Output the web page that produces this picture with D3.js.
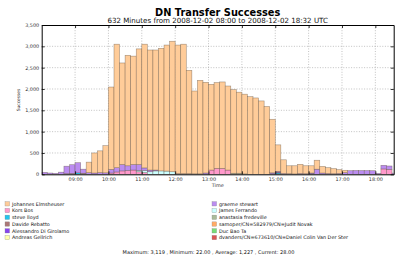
<!DOCTYPE html>
<html><head><meta charset="utf-8">
<script src="https://cdn.jsdelivr.net/npm/d3@7"></script>
<style>
html,body{margin:0;padding:0;background:#fff;}
svg{display:block;font-family:"DejaVu Sans",sans-serif;}
</style></head>
<body><svg id="c" width="414" height="259"></svg>
<script>
// ---------------- DATA ----------------
const times = ["08:00","08:10","08:20","08:30","08:40","08:50",
"09:00","09:10","09:20","09:30","09:40","09:50",
"10:00","10:10","10:20","10:30","10:40","10:50",
"11:00","11:10","11:20","11:30","11:40","11:50",
"12:00","12:10","12:20","12:30","12:40","12:50",
"13:00","13:10","13:20","13:30","13:40","13:50",
"14:00","14:10","14:20","14:30","14:40","14:50",
"15:00","15:10","15:20","15:30","15:40","15:50",
"16:00","16:10","16:20","16:30","16:40","16:50",
"17:00","17:10","17:20","17:30","17:40","17:50",
"18:00","18:10","18:20","18:30"];

const johannes   = [0,0,0,0,0,0, 0,0,245,470,510,636, 1931,2895,2380,2590,2540,2710, 2900,2814,2814,2873,2955,3059, 3015,3035,2423,1941,2191,2126, 2009,2010,2025,1970,1960,1900, 1868,1820,1790,1720,1590,1255, 620,320,185,190,214,185, 170,210,155,136,118,89, 54,0,0,0,0,0, 0,0,0,0];
const kors       = [0,0,0,0,0,0, 0,0,0,0,0,0, 30,55,80,90,100,60, 40,0,0,0,0,0, 0,0,0,0,0,0, 100,140,140,100,0,0, 0,0,0,0,0,0, 0,0,0,0,0,0, 0,0,0,0,0,0, 0,0,0,0,0,0, 0,126,115,0];
const steve      = [0,0,0,0,0,0, 35,0,0,0,0,0, 0,0,0,0,0,0, 0,0,0,0,0,0, 0,0,0,0,0,0, 0,0,0,0,0,0, 0,0,0,0,0,0, 30,0,0,0,0,0, 0,0,0,0,0,0, 0,0,0,0,0,0, 0,0,0,0];
const davide     = [0,0,0,0,15,20, 0,25,0,0,0,0, 0,0,0,0,0,0, 0,0,0,0,0,0, 15,15,15,12,12,0, 0,0,0,0,0,0, 0,0,0,0,0,0, 0,0,0,0,0,0, 0,0,0,0,0,0, 0,0,0,0,0,0, 0,0,0,0];
const alessandro = [0,0,0,0,0,0, 0,0,0,0,0,0, 0,0,0,0,0,0, 0,0,0,0,0,0, 0,0,0,0,0,0, 0,0,0,0,0,0, 0,0,0,0,0,15, 15,0,0,0,0,0, 10,0,0,0,0,0, 0,0,0,0,0,0, 0,0,0,0];
const andreas    = [0,0,0,0,0,0, 0,0,0,0,0,0, 0,0,0,0,0,0, 0,0,0,0,0,0, 0,0,0,0,0,0, 0,0,0,0,0,0, 0,0,0,0,0,0, 0,0,0,0,0,0, 0,0,0,0,0,0, 0,0,0,0,0,0, 0,0,0,0];
const graeme     = [45,30,22,50,175,205, 237,95,40,30,40,35, 85,100,150,110,130,140, 60,40,20,0,0,0, 0,0,0,0,0,30, 0,0,0,0,0,0, 0,0,0,0,0,20, 25,20,15,10,20,15, 20,120,30,20,15,20, 40,85,90,88,88,85, 22,85,80,28];
const james      = [0,0,0,0,0,0, 0,0,0,0,0,0, 0,0,0,0,0,30, 50,60,80,80,75,60, 0,0,0,0,0,0, 0,0,0,0,0,0, 0,0,0,0,0,0, 0,0,0,0,0,0, 0,0,0,0,0,0, 0,0,0,0,0,0, 0,0,0,0];
const anastasia  = [0,0,0,0,0,0, 0,0,0,0,0,0, 0,0,0,0,0,0, 0,0,0,0,0,0, 0,0,0,0,0,0, 0,0,0,0,25,25, 0,0,0,0,0,0, 0,0,0,0,0,0, 0,0,0,0,0,0, 0,0,0,0,0,0, 0,0,0,0];
const judit      = [0,0,0,0,0,0, 0,0,0,0,0,0, 0,0,0,0,0,0, 0,0,0,0,0,0, 0,0,0,0,0,0, 0,0,0,0,0,0, 0,0,0,0,0,0, 0,0,0,0,0,0, 0,0,0,0,0,0, 0,0,0,0,0,0, 0,0,0,0];
const duc        = [0,0,0,0,0,0, 0,0,0,0,0,0, 0,0,0,0,0,0, 0,0,0,0,0,0, 0,0,0,0,0,0, 0,0,0,0,0,0, 10,0,0,0,0,0, 0,0,0,0,0,0, 0,0,0,0,0,0, 0,0,0,0,0,0, 0,0,0,0];
const dvanders   = [0,0,0,0,0,0, 0,0,0,0,0,0, 0,0,0,0,0,0, 0,0,0,0,0,0, 0,0,0,0,0,0, 0,0,0,0,0,0, 0,0,0,0,0,0, 0,0,0,0,0,0, 0,0,0,0,0,0, 0,0,0,0,0,0, 0,0,0,0];

const seriesNames = ["Johannes Elmsheuser","Kors Bos","steve lloyd","Davide Rebatto","Alessandro Di Girolamo","Andreas Gellrich",
  "graeme stewart","James Ferrando","anastasia fredeville","samoper/CN=582979/CN=Judit Novak","Duc Bao Ta","dvanders/CN=673610/CN=Daniel Colin Van Der Ster"];
const seriesValues = [johannes,kors,steve,davide,alessandro,andreas,graeme,james,anastasia,judit,duc,dvanders];
const seriesColors = ["#ffcc99","#ff99cc","#22c4ee","#aa7777","#8844ee","#ffffaa",
  "#bb8cf0","#ccffff","#aabb99","#ffaa66","#77dd77","#dd5555"];
// stacking order bottom -> top
const stackOrder = ["Kors Bos","steve lloyd","Davide Rebatto","Alessandro Di Girolamo","Andreas Gellrich","James Ferrando",
  "anastasia fredeville","samoper/CN=582979/CN=Judit Novak","Duc Bao Ta","dvanders/CN=673610/CN=Daniel Colin Van Der Ster",
  "graeme stewart","Johannes Elmsheuser"];

const xTickLabels = ["09:00","10:00","11:00","12:00","13:00","14:00","15:00","16:00","17:00","18:00"];
const yTickValues = [0,500,1000,1500,2000,2500,3000,3500];
const title = "DN Transfer Successes";
const subtitle = "632 Minutes from 2008-12-02 08:00 to 2008-12-02 18:32 UTC";
const statsText = "Maximum: 3,119 , Minimum: 22.00 , Average: 1,227 , Current: 28.00";

// ---------------- CHART ----------------
const svg = d3.select("#c");
const P = {l:41.7, r:393.7, t:25, b:174.3};
const parse = s => new Date(Date.UTC(2008,11,2,+s.slice(0,2),+s.slice(3)));
const x = d3.scaleUtc().domain([parse("08:00"), parse("18:33")]).range([P.l,P.r]);
const y = d3.scaleLinear().domain([0,3500]).range([P.b,P.t]);

svg.append("rect").attr("width",414).attr("height",259).attr("fill","#fff");

// grid
const grid = svg.append("g").attr("stroke","#999").attr("stroke-width",0.6).attr("stroke-dasharray","1,1.6");
grid.selectAll("line.h").data(yTickValues.slice(1,-1)).join("line")
  .attr("x1",P.l).attr("x2",P.r).attr("y1",d=>y(d)).attr("y2",d=>y(d));
grid.selectAll("line.v").data(xTickLabels).join("line")
  .attr("y1",P.t).attr("y2",P.b).attr("x1",d=>x(parse(d))).attr("x2",d=>x(parse(d)));

// data rows
const rows = times.map((t,i)=>{const o={t:parse(t)}; seriesNames.forEach((n,k)=>o[n]=seriesValues[k][i]); return o;});
const stack = d3.stack().keys(stackOrder)(rows);
const color = d3.scaleOrdinal().domain(seriesNames).range(seriesColors);

svg.append("clipPath").attr("id","clip").append("rect")
  .attr("x",P.l).attr("y",P.t).attr("width",P.r-P.l).attr("height",P.b-P.t);
const bars = svg.append("g").attr("clip-path","url(#clip)");
stack.forEach(layer=>{
  bars.append("g").attr("fill",color(layer.key))
    .selectAll("rect").data(layer.filter(d=>d[1]-d[0]>0)).join("rect")
    .attr("x",d=>x(d.data.t))
    .attr("width",d=>x(d3.utcMinute.offset(d.data.t,10))-x(d.data.t))
    .attr("y",d=>y(d[1]))
    .attr("height",d=>y(d[0])-y(d[1]))
    .attr("stroke","#5a4a3a").attr("stroke-opacity",0.55).attr("stroke-width",0.6);
});

// axes
const fmtY = d3.format(",");
const axL = svg.append("g").attr("transform",`translate(${P.l},0)`)
  .call(d3.axisLeft(y).tickValues(yTickValues).tickSizeInner(-3).tickSizeOuter(0).tickPadding(2.5).tickFormat(fmtY));
const axR = svg.append("g").attr("transform",`translate(${P.r},0)`)
  .call(d3.axisRight(y).tickValues(yTickValues).tickSizeInner(-3).tickSizeOuter(0).tickFormat(""));
const axB = svg.append("g").attr("transform",`translate(0,${P.b})`)
  .call(d3.axisBottom(x).tickValues(xTickLabels.map(parse)).tickSizeInner(-3).tickSizeOuter(0).tickPadding(3).tickFormat(d3.utcFormat("%H:%M")));
const axT = svg.append("g").attr("transform",`translate(0,${P.t})`)
  .call(d3.axisTop(x).tickValues(xTickLabels.map(parse)).tickSizeInner(-3).tickSizeOuter(0).tickFormat(""));
[axL,axR,axB,axT].forEach(a=>{
  a.selectAll("path.domain").attr("stroke","#000").attr("stroke-width",1);
  a.selectAll(".tick line").attr("stroke","#000").attr("stroke-width",0.8);
  a.selectAll("text").attr("font-size","4.9px").attr("font-family","DejaVu Sans").attr("fill","#333");
});

// titles
svg.append("text").attr("x",217.7).attr("y",15.5).attr("text-anchor","middle")
  .attr("font-size","9.8px").attr("font-weight","bold").attr("fill","#000").text(title);
svg.append("text").attr("x",217.7).attr("y",23.3).attr("text-anchor","middle")
  .attr("font-size","7.1px").attr("fill","#111").text(subtitle);
svg.append("text").attr("x",217.7).attr("y",187).attr("text-anchor","middle")
  .attr("font-size","4.9px").attr("fill","#333").text("Time");
svg.append("text").attr("transform","translate(20,100) rotate(-90)").attr("text-anchor","middle")
  .attr("font-size","4.4px").attr("fill","#333").text("Successes");

// legend
const leg = svg.append("g");
seriesNames.forEach((n,i)=>{
  const col = Math.floor(i/6), row = i%6;
  const sx = col===0 ? 5 : 212, cy = 203.8 + row*6.75;
  leg.append("rect").attr("x",sx).attr("y",cy-2.2).attr("width",4.6).attr("height",4.4)
    .attr("fill",seriesColors[i]).attr("stroke","#888").attr("stroke-width",0.3);
  leg.append("text").attr("x",sx+7).attr("y",cy+1.7).attr("font-size","4.9px").attr("fill","#111").text(n);
});

svg.append("text").attr("x",208.5).attr("y",253.5).attr("text-anchor","middle")
  .attr("font-size","5px").attr("fill","#111").text(statsText);
</script></body></html>
